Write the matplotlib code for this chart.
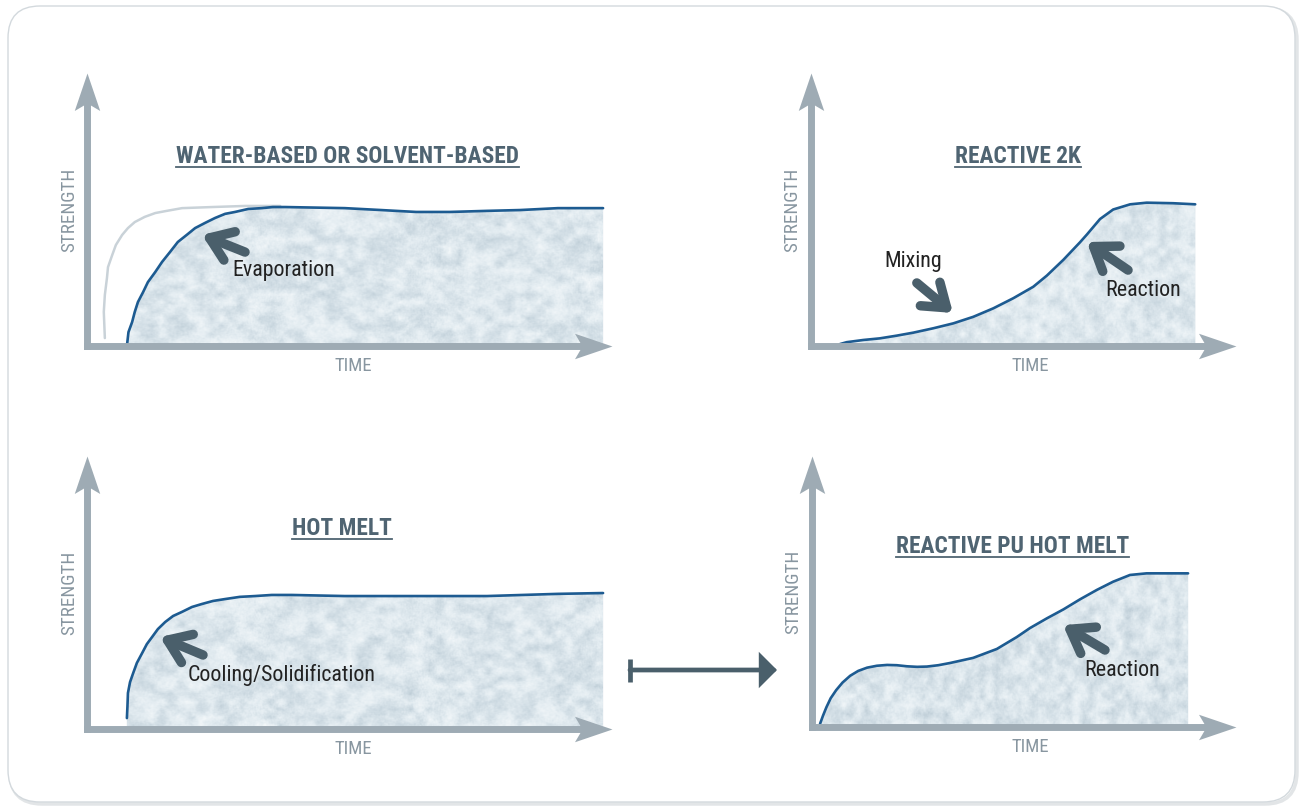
import numpy as np
import matplotlib
matplotlib.use("Agg")
import matplotlib.pyplot as plt
from matplotlib import font_manager
from matplotlib.colors import LinearSegmentedColormap
from matplotlib.lines import Line2D
from matplotlib.markers import MarkerStyle
from matplotlib.patches import FancyBboxPatch
from matplotlib.path import Path
from matplotlib.transforms import Affine2D, IdentityTransform

# --- data (time / strength, both axes run 0..100) ---
# water-based or solvent-based
wb_time = [7.6, 7.9, 8.6, 9.1, 9.7, 10.7, 11.6, 13.0, 14.3, 15.8, 17.3, 19.0, 20.6, 22.5, 24.4,
           26.3, 28.2, 30.7, 33.3, 35.4, 37.7, 49.1, 56.0, 62.7, 69.1, 76.2, 82.5, 89.7, 98.3]
wb_strength = [0.0, 5.1, 8.8, 12.5, 16.1, 19.8, 23.4, 27.1, 30.8, 34.4, 38.1, 40.7, 43.2, 45.1, 46.9,
               48.4, 49.1, 50.2, 50.5, 50.9, 50.9, 50.5, 49.8, 49.1, 49.1, 49.5, 49.8, 50.5, 50.5]
# faint reference curve
wb_ref_time = [3.4, 3.2, 3.4, 3.8, 4.0, 4.8, 5.5, 6.7, 7.8, 9.1, 11.0, 13.0, 15.2, 18.1, 23.8, 30.1, 36.8]
wb_ref_strength = [2.9, 12.5, 18.7, 24.9, 28.9, 33.3, 37.0, 40.7, 43.2, 45.4, 47.3, 48.7, 49.5, 50.5,
                   50.9, 51.3, 51.3]

# reactive 2K
r2k_time = [6.8, 8.4, 12.3, 16.2, 20.2, 24.1, 28.8, 33.5, 38.2, 42.9, 47.6, 52.3, 55.5, 59.4, 63.3,
            64.9, 68.0, 71.1, 75.1, 79.0, 85.2, 90.4]
r2k_strength = [0.7, 1.4, 2.2, 2.8, 3.8, 4.9, 6.5, 8.3, 10.7, 13.8, 17.5, 21.7, 25.8, 31.6, 38.0,
                40.8, 46.5, 50.0, 51.9, 52.5, 52.3, 51.9]

# hot melt
hm_time = [7.6, 7.7, 7.8, 8.2, 8.8, 9.5, 10.5, 11.4, 12.4, 13.5, 14.9, 16.4, 18.1, 20.0, 21.9, 24.0,
           26.3, 29.1, 32.0, 35.2, 39.0, 49.1, 62.7, 76.2, 89.7, 98.3]
hm_strength = [4.0, 8.1, 13.2, 17.2, 20.5, 24.2, 27.8, 31.1, 33.7, 36.6, 39.2, 41.4, 42.9, 44.7, 45.8,
               46.9, 47.6, 48.4, 48.7, 49.1, 49.1, 48.7, 48.7, 48.7, 49.5, 49.8]

# reactive PU hot melt
pu_time = [1.9, 2.6, 3.4, 4.4, 5.7, 7.2, 9.0, 10.9, 13.0, 15.3, 17.7, 20.0, 22.4, 24.8, 27.1, 29.8,
           32.5, 38.0, 43.6, 48.3, 51.4, 55.4, 59.3, 63.2, 67.2, 71.0, 75.0, 78.9, 83.7, 88.7]
pu_strength = [1.2, 4.2, 7.3, 10.6, 13.6, 16.4, 18.9, 20.7, 21.9, 22.6, 22.9, 22.8, 22.4, 22.2, 22.3,
               22.8, 23.6, 25.5, 28.8, 33.2, 36.5, 40.1, 43.4, 47.1, 50.6, 53.6, 56.1, 56.7, 56.7, 56.7]

titles = ["WATER-BASED OR SOLVENT-BASED", "REACTIVE 2K", "HOT MELT", "REACTIVE PU HOT MELT"]

# pointer labels: (text, text pos, arrow tail, arrow tip)
wb_notes = [("Evaporation", (37.5, 27.8), (30.1, 34.4), (21.9, 40.7))]
r2k_notes = [("Mixing", (24.0, 31.1), (24.9, 23.1), (33.4, 12.1)),
             ("Reaction", (78.1, 20.5), (74.6, 27.8), (64.9, 38.1))]
hm_notes = [("Cooling/Solidification", (37.1, 19.8), (22.1, 27.1), (13.9, 33.7))]
pu_notes = [("Reaction", (73.1, 21.0), (69.1, 28.4), (59.2, 37.6))]

# --- fonts: a condensed sans, closest to the original's narrow Helvetica ---
names = {f.name for f in font_manager.fontManager.ttflist}
FONT = dict(family="DejaVu Sans", stretch="condensed")
for cand in ["Roboto Condensed", "Liberation Sans Narrow", "Open Sans Condensed"]:
    if cand in names:
        FONT = dict(family=cand)
        break

AXIS_C = "#9eabb4"
CURVE_C = "#1d5b91"
POINTER_C = "#4a5f6b"
TITLE_C = "#4f6472"
LABEL_C = "#8896a0"

W, H = 1305, 810
fig = plt.figure(figsize=(W / 100, H / 100), dpi=100)
fig.patch.set_facecolor("white")

bg = fig.add_axes([0, 0, 1, 1])
bg.set_xlim(0, W)
bg.set_ylim(H, 0)
bg.axis("off")
bg.add_patch(FancyBboxPatch((10, 8), W - 18, H - 14, boxstyle="round,pad=0,rounding_size=32",
                            fc="none", ec="#e2e5e7", lw=2.5))
bg.add_patch(FancyBboxPatch((8, 6), W - 18, H - 14, boxstyle="round,pad=0,rounding_size=32",
                            fc="white", ec="#d3d9dd", lw=1.0))

# connector arrow between the two hot-melt panels
bg.annotate("", xy=(777, 670), xytext=(630, 670),
            arrowprops=dict(arrowstyle="-|>,head_length=9,head_width=9", mutation_scale=1,
                            lw=3.4, color=POINTER_C, shrinkA=0, shrinkB=0, joinstyle="miter"))
bg.plot([630, 630], [659, 682], color=POINTER_C, lw=3.4, solid_capstyle="butt")

cmap = LinearSegmentedColormap.from_list("frost", ["#b6c6d0", "#cddae2", "#e3ecf1", "#f4f8fa"])

# arrow head with a notched back, tip at the origin
HEAD = Path([(0, 0), (-1, 0.34), (-0.8, 0), (-1, -0.34), (0, 0)],
            [Path.MOVETO, Path.LINETO, Path.LINETO, Path.LINETO, Path.CLOSEPOLY])


def blur(a, k):
    ker = np.ones(k) / k
    a = np.apply_along_axis(lambda r: np.convolve(r, ker, mode="same"), 1, a)
    a = np.apply_along_axis(lambda c: np.convolve(c, ker, mode="same"), 0, a)
    return a


def norm(a):
    return (a - a.min()) / (a.max() - a.min())


def texture(seed, h=180, w=520):
    # mottled "frost" fill, purely decorative
    rng = np.random.default_rng(seed)
    coarse = blur(np.kron(rng.random((h // 10 + 2, w // 10 + 2)), np.ones((10, 10))), 9)[:h, :w]
    mid = blur(rng.random((h, w)), 4)
    fine = blur(rng.random((h, w)), 2)
    return norm(0.45 * norm(coarse) + 0.35 * norm(mid) + 0.2 * norm(fine))


def panel(rect, t, s, title, title_pos, notes, seed, ref=None):
    ax = fig.add_axes([rect[0] / W, 1 - rect[1] / H, rect[2] / W, rect[3] / H])
    ax.set_xlim(0, 100)
    ax.set_ylim(0, 100)
    ax.axis("off")
    px_x, px_y = rect[2] / 100, rect[3] / 100

    poly = ax.fill_between(t, s, 0, facecolor="#d8e3ea", edgecolor="none", zorder=1)
    top = max(s) + 1
    im = ax.imshow(texture(seed), extent=[0, t[-1], 0, top], aspect="auto", cmap=cmap,
                   interpolation="bilinear", zorder=1.5)
    im.set_clip_path(poly.get_paths()[0], ax.transData)

    if ref is not None:
        ax.plot(ref[0], ref[1], color="#c9d2d8", lw=1.8, zorder=2, solid_capstyle="round")
    ax.plot(t, s, color=CURVE_C, lw=1.9, zorder=3, solid_capstyle="round",
            solid_joinstyle="round", clip_on=False)

    # axes drawn as arrows
    ax.plot([0, 100 - 26 / px_x], [0, 0], color=AXIS_C, lw=5, solid_capstyle="projecting",
            zorder=4, clip_on=False)
    ax.plot([0, 0], [0, 100 - 26 / px_y], color=AXIS_C, lw=5, solid_capstyle="projecting",
            zorder=4, clip_on=False)
    ax.plot(100, 0, marker=MarkerStyle(HEAD), ms=54, color=AXIS_C, mew=0, zorder=4, clip_on=False)
    ax.plot(0, 100, marker=MarkerStyle(HEAD, transform=Affine2D().rotate_deg(90)), ms=54,
            color=AXIS_C, mew=0, zorder=4, clip_on=False)

    ax.text(50.7 if rect[2] > 500 else 51.5, -7.3, "TIME", ha="center", va="center",
            fontsize=13.5, color=LABEL_C, **FONT)
    ax.text(-3.3 if rect[2] > 500 else -4.5, 50, "STRENGTH", ha="center", va="center",
            rotation=90, fontsize=13.8, color=LABEL_C, **FONT)

    for label, pos, tail, tip in notes:
        ax.annotate("", xy=tip, xytext=tail, zorder=5,
                    arrowprops=dict(arrowstyle="->,head_length=15.5,head_width=11",
                                    mutation_scale=1, lw=6.8, color=POINTER_C,
                                    shrinkA=0, shrinkB=0, capstyle="round", joinstyle="round"))
        ax.text(pos[0], pos[1], label, ha="center", va="center", fontsize=15.8,
                color="#222222", zorder=6, **FONT)

    ttl = ax.text(title_pos[0], title_pos[1], title, ha="center", va="baseline", fontsize=16.8,
                  fontweight="bold", color=TITLE_C, zorder=6, **FONT)
    return ax, ttl


panels = [
    panel((87, 346, 525, 273), wb_time, wb_strength, titles[0], (49.7, 67.0), wb_notes, 1,
          ref=(wb_ref_time, wb_ref_strength)),
    panel((811, 346, 425, 273), r2k_time, r2k_strength, titles[1], (48.7, 67.0), r2k_notes, 2),
    panel((87, 729, 525, 273), hm_time, hm_strength, titles[2], (48.6, 71.1), hm_notes, 3),
    panel((812, 727, 424, 271), pu_time, pu_strength, titles[3], (47.2, 64.2), pu_notes, 4),
]

# underline the panel titles
fig.canvas.draw()
for ax, ttl in panels:
    bb = ttl.get_window_extent()
    base = ax.transData.transform(ttl.get_position())[1]
    fig.add_artist(Line2D([bb.x0, bb.x1], [base - 4, base - 4], transform=IdentityTransform(),
                          color=TITLE_C, lw=1.3))

fig.savefig("out.png", dpi=100, facecolor="white")
